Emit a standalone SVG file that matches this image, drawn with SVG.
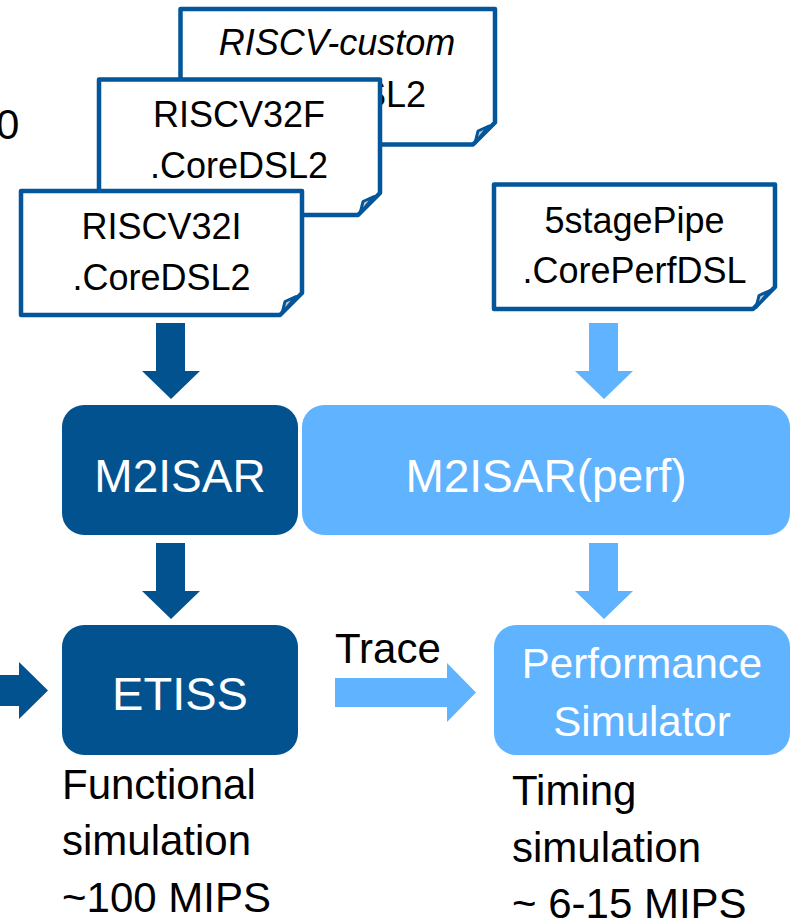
<svg xmlns="http://www.w3.org/2000/svg" width="792" height="923" viewBox="0 0 792 923">
<style>
.doc{fill:#fff;stroke:#03569a;stroke-width:4.5;stroke-linejoin:round}
.curl{fill:#c8c8c8;stroke:#03569a;stroke-width:3;stroke-linejoin:round}
.dt{font-family:"Liberation Sans",Arial,sans-serif;font-size:36px;fill:#000;text-anchor:middle}
.bt{font-family:"Liberation Sans",Arial,sans-serif;fill:#fff;text-anchor:middle}
.lt{font-family:"Liberation Sans",Arial,sans-serif;font-size:42px;fill:#000}
.dark{fill:#02528f}
.light{fill:#60b3ff}
</style>
<rect width="792" height="923" fill="#fff"/>
<text class="lt" x="-4" y="139" font-size="40">0</text>
<g id="doc-custom">
<path class="doc" d="M180.5 9 H495 V122.5 L473 144.5 H180.5 Z"/>
<path class="curl" d="M475 143 L478 131 L489 126 Z"/>
<text class="dt" x="337" y="55" font-style="italic">RISCV-custom</text>
<text class="dt" x="337" y="107">.CoreDSL2</text>
</g>
<g id="doc-32f">
<path class="doc" d="M99 79.5 H380 V193 L358 215 H99 Z"/>
<path class="curl" d="M360 213.5 L363 201.5 L374 196.5 Z"/>
<text class="dt" x="239" y="127">RISCV32F</text>
<text class="dt" x="239" y="178">.CoreDSL2</text>
</g>
<g id="doc-32i">
<path class="doc" d="M21 191 H302 V293 L280 315 H21 Z"/>
<path class="curl" d="M282 313.5 L285 301.5 L296 296.5 Z"/>
<text class="dt" x="161.5" y="239">RISCV32I</text>
<text class="dt" x="161.5" y="290">.CoreDSL2</text>
</g>
<g id="doc-perf">
<path class="doc" d="M494 184.5 H775 V287 L753 309 H494 Z"/>
<path class="curl" d="M756 307.5 L759 295.5 L770 290.5 Z"/>
<text class="dt" x="634.5" y="233">5stagePipe</text>
<text class="dt" x="634.5" y="283">.CorePerfDSL</text>
</g>
<g id="m2isar">
<rect class="dark" x="62" y="405" width="236" height="130" rx="22"/>
<text class="bt" x="180" y="492" font-size="46">M2ISAR</text>
</g>
<g id="m2isar-perf">
<rect class="light" x="302" y="405" width="488" height="130" rx="22"/>
<text class="bt" x="546" y="492" font-size="46">M2ISAR(perf)</text>
</g>
<g id="etiss">
<rect class="dark" x="62" y="625" width="236" height="130" rx="22"/>
<text class="bt" x="180" y="710" font-size="47">ETISS</text>
</g>
<g id="perfsim">
<rect class="light" x="494" y="625" width="296" height="130" rx="22"/>
<text class="bt" x="642" y="678" font-size="42">Performance</text>
<text class="bt" x="642" y="736" font-size="42">Simulator</text>
</g>
<g id="connectors">
<polygon class="dark" points="156,323 185,323 185,371 200,371 171,399 142,371 156,371"/>
<polygon class="light" points="589,323 618,323 618,371 633,371 604,399 575,371 589,371"/>
<polygon class="dark" points="156,543 185,543 185,591 200,591 171,619 142,591 156,591"/>
<polygon class="light" points="589,543 618,543 618,591 633,591 604,619 575,591 589,591"/>
<polygon class="dark" points="0,675 19,675 19,662 48,690.5 19,719 19,706 0,706"/>
<polygon class="light" points="335,678 447,678 447,663 476,692.5 447,722 447,707 335,707"/>
<text class="lt" x="335" y="663">Trace</text>
</g>
<g id="labels">
<text class="lt" x="62" y="799">Functional</text>
<text class="lt" x="62" y="855">simulation</text>
<text class="lt" x="62" y="912">~100 MIPS</text>
<text class="lt" x="512" y="805">Timing</text>
<text class="lt" x="512" y="862">simulation</text>
<text class="lt" x="512" y="918">~ 6-15 MIPS</text>
</g>
</svg>
